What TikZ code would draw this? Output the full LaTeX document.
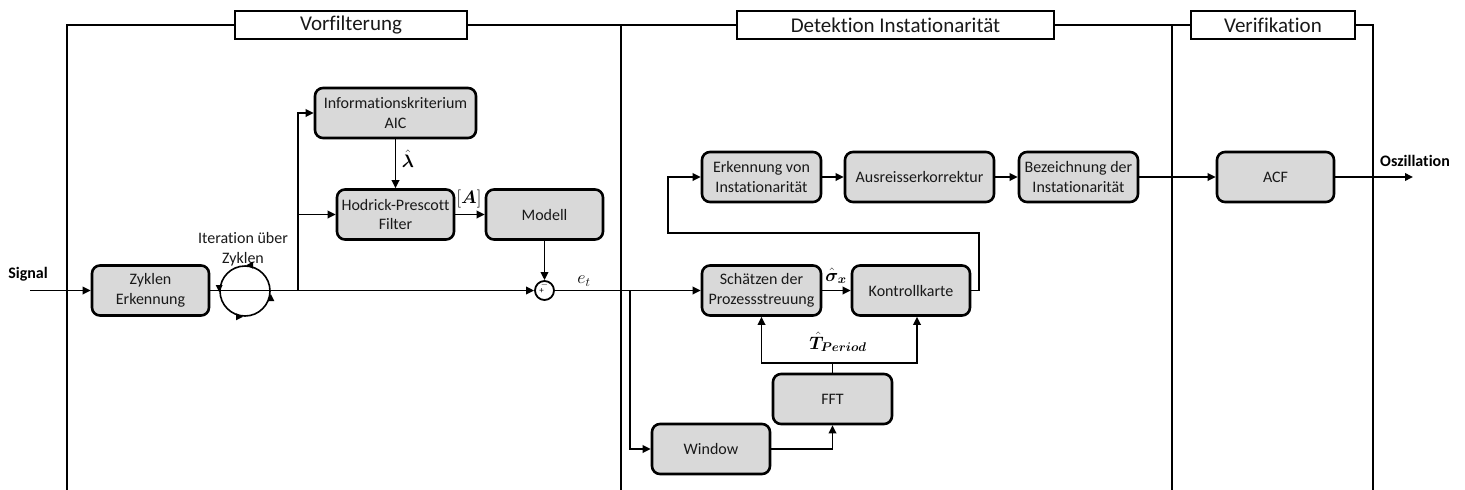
\RequirePackage{fix-cm}
\documentclass[tikz,border=0pt]{standalone}
\usepackage{amsmath}
\usepackage{bm}
\usepackage[no-math]{fontspec}
\setmainfont{Carlito}[Ligatures={NoCommon,NoRare}]
\usetikzlibrary{arrows.meta,calc}
\definecolor{boxgray}{RGB}{217,217,217}
\definecolor{ink}{RGB}{25,25,25}
\begin{document}
\begin{tikzpicture}[x=1pt,y=-1pt,
  txt/.style={font=\fontsize{16}{19.5}\selectfont, inner sep=1pt, text=ink},
  mth/.style={font=\fontsize{18}{21}\selectfont, inner sep=1pt},
  lbl/.style={font=\fontsize{16}{19.5}\selectfont\bfseries, inner sep=1pt},
  blk/.style={draw, line width=2.6pt, rounded corners=8pt, fill=boxgray, align=center,
              inner sep=0pt, font=\fontsize{16}{19.5}\selectfont, text=ink, minimum height=50pt},
  ttl/.style={draw, line width=1.8pt, fill=white, minimum height=28pt, inner sep=0pt,
              font=\fontsize{21}{25}\selectfont, text=ink},
  frm/.style={line width=1.9pt},
  con/.style={line width=1.8pt},
  arr/.style={line width=1.8pt, -{Triangle[length=8pt,width=7.5pt]}},
  tip/.style={line width=1.4pt, -{Triangle[length=7pt,width=6.5pt]}},
]
\useasboundingbox (0,0) rectangle (1465,490);

% section titles
\node[ttl, minimum width=232pt] (vor) at (351,25) {Vorfilterung};
\node[ttl, minimum width=317pt] (det) at (895.5,25) {Detektion Instationarität};
\node[ttl, minimum width=164pt] (ver) at (1273,25) {Verifikation};

% frame
\draw[frm] (67,490) -- (67,25) -- (vor.west);
\draw[frm] (vor.east) -- (det.west);
\draw[frm] (621,25) -- (621,490);
\draw[frm] (det.east) -- (ver.west);
\draw[frm] (1172,25) -- (1172,490);
\draw[frm] (ver.east) -- (1373,25) -- (1373,490);

% blocks
\node[blk, minimum width=161pt] (aic) at (395.5,113) {Informationskriterium\\AIC};
\node[blk, minimum width=117pt] (hp)  at (395.5,214.5) {Hodrick-Prescott\\Filter};
\node[blk, minimum width=117pt] (mod) at (544.5,214.5) {Modell};
\node[blk, minimum width=117pt] (zyk) at (150.5,290.5) {Zyklen\\Erkennung};
\node[draw, circle, line width=1.8pt, minimum size=19pt, inner sep=0pt] (sum) at (544.5,290.5) {};
\node[font=\fontsize{9}{9}\selectfont, inner sep=0pt] (plus) at ([xshift=-3pt,yshift=-1pt]sum.center) {+};
\node[font=\fontsize{9}{9}\selectfont, inner sep=0pt] (minus) at ([yshift=5.5pt]sum.center) {$-$};

\node[blk, minimum width=119pt] (erk) at (761.5,177) {Erkennung von\\Instationarität};
\node[blk, minimum width=149pt] (aus) at (919.5,177) {Ausreisserkorrektur};
\node[blk, minimum width=119pt] (bez) at (1078.5,177) {Bezeichnung der\\Instationarität};
\node[blk, minimum width=117pt] (acf) at (1275.5,177) {ACF};
\node[blk, minimum width=119pt] (sch) at (761.5,290.5) {Schätzen der\\Prozessstreuung};
\node[blk, minimum width=118pt] (kon) at (911,290.5) {Kontrollkarte};
\node[blk, minimum width=119pt] (fft) at (832.5,399) {FFT};
\node[blk, minimum width=118pt] (win) at (711,449) {Window};

% input
\node[lbl] (sig) at (28,274) {Signal};
\coordinate (sin) at (30,290.5);
\draw[arr] (sin) -- (zyk.west);

% iteration symbol
\node[txt, align=center] (it) at (243,249) {Iteration über\\Zyklen};
\node[draw, circle, line width=1.6pt, minimum size=50pt, inner sep=0pt] (cyc) at (245,291) {};
\draw[tip] ([xshift=6pt]cyc.north) -- ([xshift=1pt]cyc.north);
\draw[tip] ([yshift=5pt]cyc.west) -- ([yshift=-1pt]cyc.west);
\draw[tip] ([xshift=-8pt]cyc.south) -- ([xshift=-2pt]cyc.south);
\draw[tip] ([yshift=-9pt]cyc.east) -- ([yshift=-3pt]cyc.east);

% Vorfilterung connections
\draw[arr] (zyk.east) -- (sum.west);
\coordinate (b1) at (298,290.5);
\coordinate (b2) at (298,214.5);
\draw[arr] (b1) |- (aic.west);
\draw[arr] (b2) -- (hp.west);
\draw[arr] (aic.south) -- (hp.north);
\node[mth] (lam) at (408,159) {$\hat{\bm\lambda}$};
\draw[arr] (hp.east) -- (mod.west);
\node[mth] (amat) at (469,199) {$[\bm A]$};
\draw[arr] (mod.south) -- (sum.north);

% Detektion connections
\draw[arr] (sum.east) -- (sch.west);
\node[mth] (et) at (584,281) {$e_t$};
\coordinate (b3) at (630,290.5);
\draw[arr] (b3) |- (win.west);
\draw[arr] (win.east) -| (fft.south);
\draw[con] (fft.north) -- ++(0,-10) coordinate (b4);
\draw[arr] (b4) -| (sch.south);
\draw[arr] (b4) -| ([xshift=6pt]kon.south);
\node[mth] (tper) at (838,342) {$\hat{\bm T}_{\bm{Period}}$};
\draw[arr] (sch.east) -- (kon.west);
\node[mth] (sx) at (836,276) {$\hat{\bm\sigma}_{\bm x}$};
\coordinate (f1) at (979,233);
\coordinate (f2) at (668,233);
\draw[arr] (kon.east) -| (f1) -- (f2) |- (erk.west);
\draw[arr] (erk.east) -- (aus.west);
\draw[arr] (aus.east) -- (bez.west);
\draw[arr] (bez.east) -- (acf.west);

% output
\coordinate (out) at (1413,177);
\draw[arr] (acf.east) -- (out);
\node[lbl] (osz) at (1415,161) {Oszillation};
\end{tikzpicture}
\end{document}
